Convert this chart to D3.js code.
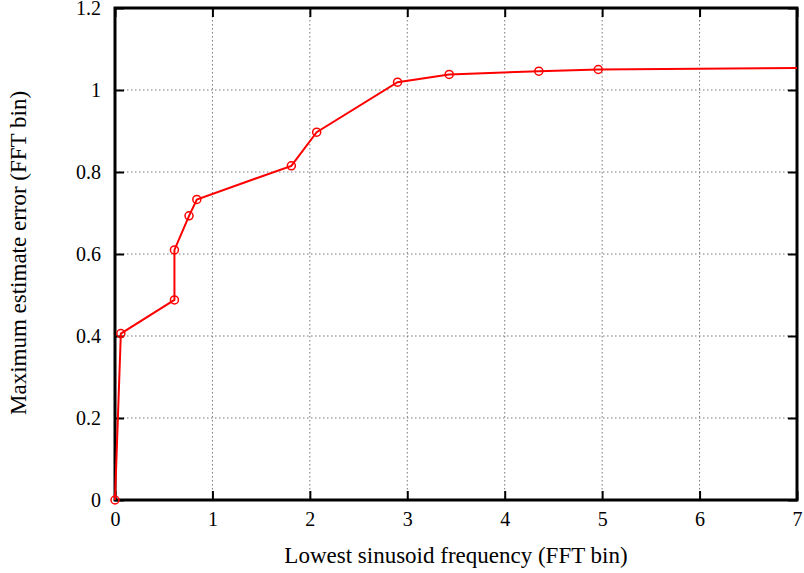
<!DOCTYPE html>
<html>
<head>
<meta charset="utf-8">
<script src="https://cdn.jsdelivr.net/npm/d3@7"></script>
<style>
  body { margin: 0; background: #fff; }
  text { font-family: "Liberation Serif", "Times New Roman", serif; fill: #000; }
</style>
</head>
<body>
<div id="chart"></div>
<script>
// Lowest sinusoid frequency (FFT bin)
var freqs = [0, 0.06, 0.61, 0.61, 0.76, 0.84, 1.81, 2.07, 2.90, 3.43, 4.35, 4.96, 7.6];
// Maximum estimate error (FFT bin)
var errors = [0, 0.406, 0.488, 0.610, 0.693, 0.733, 0.815, 0.897, 1.019, 1.038, 1.046, 1.050, 1.055];

var xTicks = [0, 1, 2, 3, 4, 5, 6, 7];
var yTicks = [0, 0.2, 0.4, 0.6, 0.8, 1, 1.2];

var width = 804, height = 573;
var plotLeft = 115, plotRight = 797, plotTop = 8, plotBottom = 500;

var svg = d3.select("#chart").append("svg")
    .attr("width", width)
    .attr("height", height);

var x = d3.scaleLinear().domain([0, 7]).range([plotLeft, plotRight]);
var y = d3.scaleLinear().domain([0, 1.2]).range([plotBottom, plotTop]);

// grid lines
svg.selectAll(".vgrid")
    .data(xTicks.slice(1, -1))
    .enter().append("line")
    .attr("x1", d => x(d)).attr("x2", d => x(d))
    .attr("y1", plotTop).attr("y2", plotBottom)
    .attr("stroke", "#777").attr("stroke-width", 1)
    .attr("stroke-dasharray", "1.5,2.5");

svg.selectAll(".hgrid")
    .data(yTicks.slice(1, -1))
    .enter().append("line")
    .attr("x1", plotLeft).attr("x2", plotRight)
    .attr("y1", d => y(d)).attr("y2", d => y(d))
    .attr("stroke", "#777").attr("stroke-width", 1)
    .attr("stroke-dasharray", "1.5,2.5");

// axes with inward ticks on all sides
svg.append("g").attr("transform", "translate(0," + plotBottom + ")")
    .call(d3.axisBottom(x).tickValues(xTicks).tickSize(-9).tickPadding(12).tickFormat(d3.format("d")));
svg.append("g").attr("transform", "translate(0," + plotTop + ")")
    .call(d3.axisTop(x).tickValues(xTicks).tickSize(-9).tickFormat(""));
svg.append("g").attr("transform", "translate(" + plotLeft + ",0)")
    .call(d3.axisLeft(y).tickValues(yTicks).tickSize(-9).tickPadding(14).tickFormat(d => String(+d.toFixed(1))));
svg.append("g").attr("transform", "translate(" + plotRight + ",0)")
    .call(d3.axisRight(y).tickValues(yTicks).tickSize(-9).tickFormat(""));

svg.selectAll(".domain").remove();
svg.selectAll(".tick line").attr("stroke", "#000").attr("stroke-width", 2);
svg.selectAll(".tick text").style("font-size", "20px").style("font-family", "Liberation Serif");

// frame
svg.append("rect")
    .attr("x", plotLeft).attr("y", plotTop)
    .attr("width", plotRight - plotLeft).attr("height", plotBottom - plotTop)
    .attr("fill", "none").attr("stroke", "#000").attr("stroke-width", 3);

// clip
svg.append("clipPath").attr("id", "clip")
    .append("rect").attr("x", plotLeft - 6).attr("y", plotTop)
    .attr("width", plotRight - plotLeft + 6).attr("height", plotBottom - plotTop + 6);

var pts = freqs.map((f, i) => [f, errors[i]]);

var line = d3.line().x(d => x(d[0])).y(d => y(d[1]));

var g = svg.append("g").attr("clip-path", "url(#clip)");
g.append("path")
    .datum(pts)
    .attr("d", line)
    .attr("fill", "none")
    .attr("stroke", "#f00")
    .attr("stroke-width", 2);

g.selectAll(".pt")
    .data(pts.filter(d => d[0] <= 7))
    .enter().append("circle")
    .attr("cx", d => x(d[0])).attr("cy", d => y(d[1]))
    .attr("r", 4)
    .attr("fill", "none")
    .attr("stroke", "#f00")
    .attr("stroke-width", 1.5);

// axis titles
svg.append("text")
    .attr("x", 456).attr("y", 563)
    .attr("text-anchor", "middle")
    .style("font-size", "23px")
    .text("Lowest sinusoid frequency (FFT bin)");

svg.append("text")
    .attr("transform", "translate(26,253) rotate(-90)")
    .attr("text-anchor", "middle")
    .style("font-size", "23px")
    .text("Maximum estimate error (FFT bin)");
</script>
</body>
</html>
